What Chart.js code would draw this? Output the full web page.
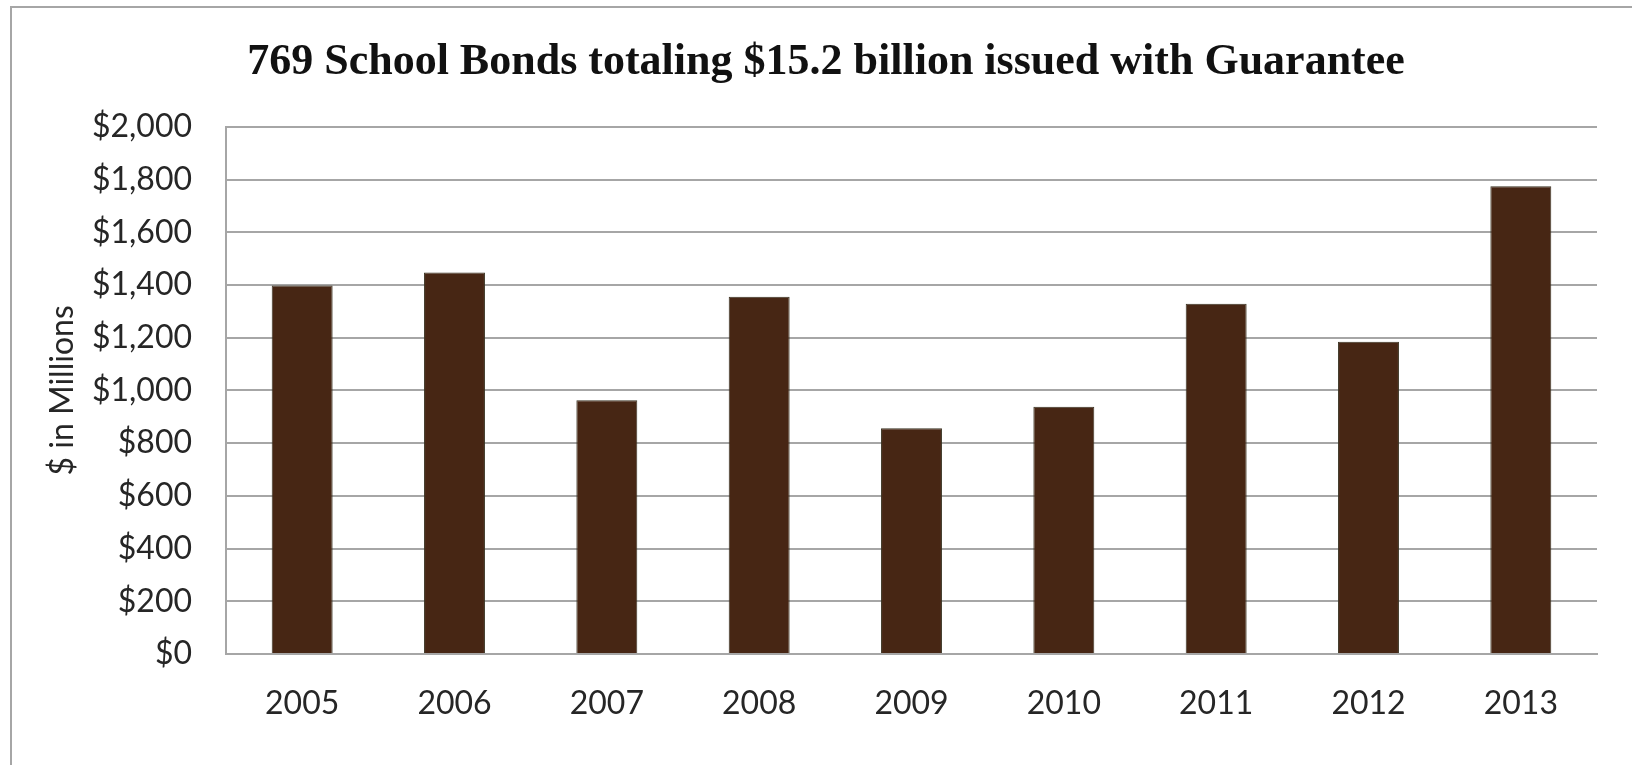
<!DOCTYPE html>
<html>
<head>
<meta charset="utf-8">
<script src="https://cdn.jsdelivr.net/npm/chart.js@4"></script>
<style>
  html, body { margin: 0; padding: 0; background: #fff; overflow: hidden; }
  #frame {
    position: absolute; left: 10px; top: 6px; width: 1640px; height: 780px;
    border: 2px solid #a6a6a6; box-sizing: border-box;
  }
  #wrap { position: absolute; left: 0; top: 0; width: 1632px; height: 765px; }
</style>
</head>
<body>
<div id="frame"></div>
<div id="wrap"><canvas id="chart" width="1632" height="765"></canvas></div>
<script>
const years = ['2005', '2006', '2007', '2008', '2009', '2010', '2011', '2012', '2013'];
const bondAmounts = [1398, 1447, 963, 1355, 856, 938, 1329, 1185, 1774];
const titleText = '769 School Bonds totaling $15.2 billion issued with Guarantee';
const yAxisLabel = '$ in Millions';

const ctx = document.querySelector('canvas#chart').getContext('2d');

// CHART
new Chart(ctx, {
    type: 'bar',
    data: {
        labels: years,
        datasets: [
            {
                label: 'School Bonds',
                data: bondAmounts,
                backgroundColor: '#472614',
                borderColor: '#3a3322',
                borderWidth: 1,
                categoryPercentage: 1,
                barPercentage: 0.4
            }
        ]
    },
    options: {
        responsive: false,
        animation: false,
        // left padding shifts the title centre to match the original
        layout: { padding: { left: 55, right: 35, top: 0, bottom: 0 } },
        plugins: {
            legend: { display: false },
            tooltip: { enabled: false },
            title: {
                display: true,
                text: titleText,
                color: '#111',
                font: { family: 'Liberation Serif', size: 44, weight: 'bold' },
                padding: { top: 36, bottom: 38 }
            }
        },
        scales: {
            x: {
                grid: { display: false, drawTicks: false },
                border: { color: '#a6a6a6', width: 2 },
                ticks: {
                    color: '#262626',
                    font: { family: 'Lato', size: 32 },
                    padding: 30
                },
                afterFit: (scale) => { scale.height = 111; }
            },
            y: {
                min: 0,
                max: 2000,
                grid: { color: '#a6a6a6', lineWidth: 2, drawTicks: false },
                border: { color: '#a6a6a6', width: 2 },
                ticks: {
                    stepSize: 200,
                    color: '#262626',
                    font: { family: 'Lato', size: 32 },
                    padding: 34,
                    callback: (v) => '$' + v.toLocaleString('en-US')
                },
                title: {
                    display: true,
                    text: yAxisLabel,
                    color: '#262626',
                    font: { family: 'Lato', size: 32 },
                    padding: { top: -12, bottom: 0 }
                },
                afterFit: (scale) => { scale.width = 171; }
            }
        }
    }
});
</script>
</body>
</html>
